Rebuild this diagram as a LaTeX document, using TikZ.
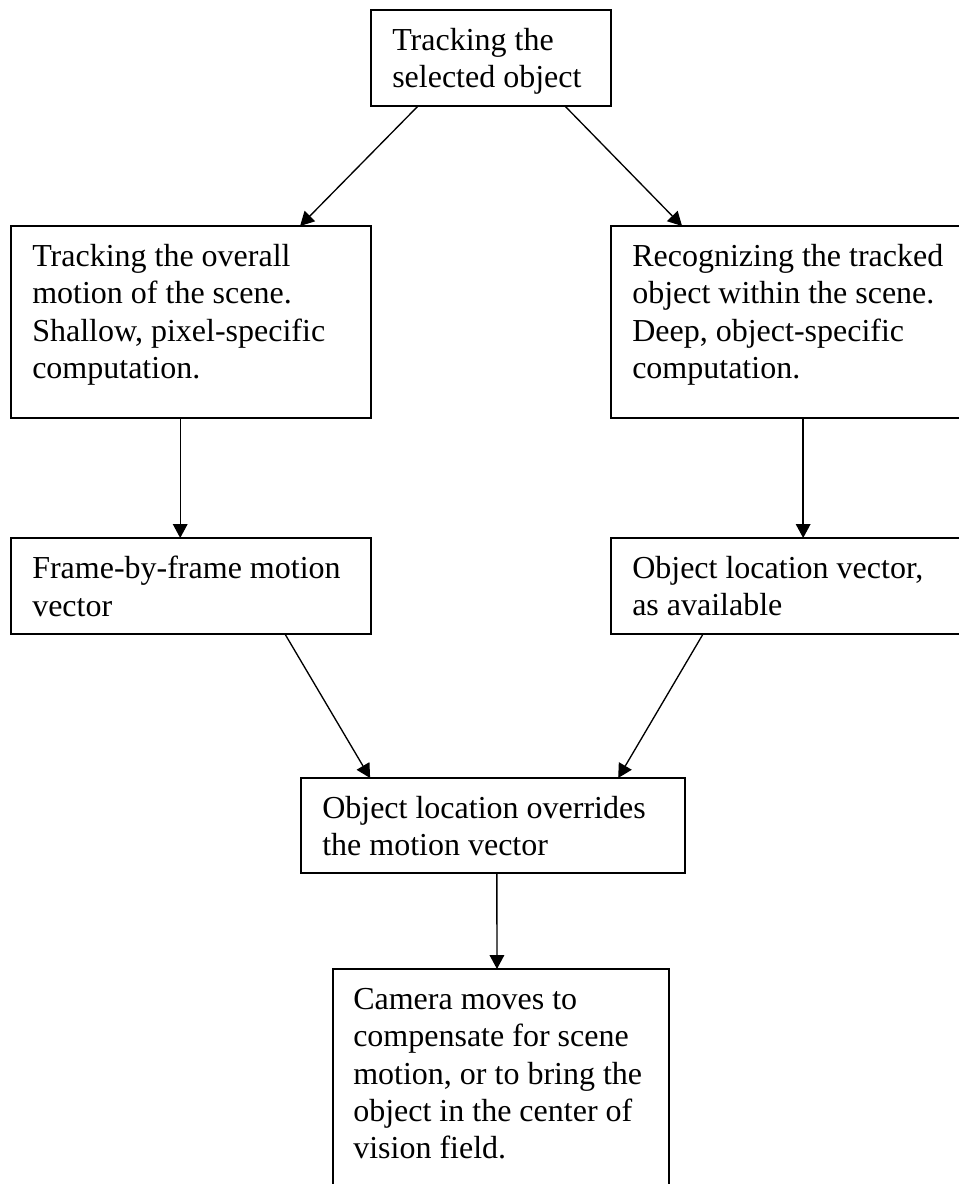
\documentclass[tikz,border=0pt]{standalone}
\usepackage{fontspec}
\setmainfont{Liberation Serif}
\usetikzlibrary{arrows.meta, calc}

\begin{document}
\begin{tikzpicture}[
  x=0.75pt, y=-0.75pt,
  every node/.style={font=\fontsize{24}{28}\selectfont},
  box/.style={rectangle, draw, line width=1.5pt, anchor=north west, inner sep=0pt, outer sep=0pt},
  txt/.style={anchor=north west, inner sep=0pt, align=left},
  arrow/.style={-{Triangle[length=10.5pt, width=11pt]}, line width=1pt},
]
\path[use as bounding box, fill=white] (0,0) rectangle (959,1184);

% boxes
\node[box, minimum width=180pt, minimum height=72pt] (sel) at (371,10) {};
\node[box, minimum width=270pt, minimum height=144pt] (overall) at (11,226) {};
\node[box, minimum width=262.5pt, minimum height=144pt] (recog) at (611,226) {};
\node[box, minimum width=270pt, minimum height=72pt] (frame) at (11,538) {};
\node[box, minimum width=262.5pt, minimum height=72pt] (objloc) at (611,538) {};
\node[box, minimum width=288pt, minimum height=71.25pt] (override) at (301,778) {};
\node[box, minimum width=252pt, minimum height=165pt] (camera) at (333,969) {};

% texts
\node[txt] (sel-txt) at ($(sel.north west)+(21,18)$) {Tracking the\\selected object};
\node[txt] (overall-txt) at ($(overall.north west)+(21,18)$) {Tracking the overall\\motion of the scene.\\Shallow, pixel-specific\\computation.};
\node[txt] (recog-txt) at ($(recog.north west)+(21,18)$) {Recognizing the tracked\\object within the scene.\\Deep, object-specific\\computation.};
\node[txt] (frame-txt) at ($(frame.north west)+(21,18)$) {Frame-by-frame motion\\vector};
\node[txt] (objloc-txt) at ($(objloc.north west)+(21,18)$) {Object location vector,\\as available};
\node[txt] (override-txt) at ($(override.north west)+(21,18)$) {Object location overrides\\the motion vector};
\node[txt] (camera-txt) at ($(camera.north west)+(20,19)$) {Camera moves to\\compensate for scene\\motion, or to bring the\\object in the center of\\vision field.};

% connectors
\draw[arrow] ($(sel.south west)!0.196!(sel.south east)$) -- ($(overall.north west)!0.803!(overall.north east)$);
\draw[arrow] ($(sel.south west)!0.808!(sel.south east)$) -- ($(recog.north west)!0.203!(recog.north east)$);
\draw[arrow] ($(overall.south west)!0.47!(overall.south east)$) -- ($(frame.north west)!0.47!(frame.north east)$);
\draw[arrow] ($(recog.south west)!0.549!(recog.south east)$) -- ($(objloc.north west)!0.549!(objloc.north east)$);
\draw[arrow] ($(frame.south west)!0.761!(frame.south east)$) -- ($(override.north west)!0.18!(override.north east)$);
\draw[arrow] ($(objloc.south west)!0.263!(objloc.south east)$) -- ($(override.north west)!0.826!(override.north east)$);
\draw[arrow] ($(override.south west)!0.51!(override.south east)$) -- ($(camera.north west)!0.488!(camera.north east)$);
\end{tikzpicture}
\end{document}
